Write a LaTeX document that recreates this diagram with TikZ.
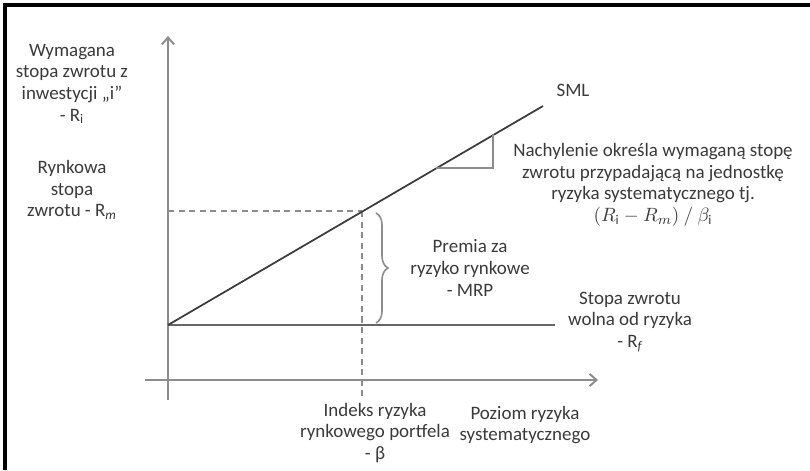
\documentclass[tikz,border=0pt]{standalone}
\usepackage{fontspec}
\setmainfont{Carlito}
\usetikzlibrary{arrows.meta,decorations.pathreplacing}
\definecolor{axisgray}{HTML}{8C8C8C}
\definecolor{rfgray}{HTML}{666666}
\definecolor{smlgray}{HTML}{3C3C3C}
\definecolor{txt}{HTML}{3A3A3A}
\begin{document}
\begin{tikzpicture}[x=0.02cm,y=-0.02cm,
  lbl/.style={align=center,text=txt,font=\fontsize{10.8}{12.3}\selectfont,inner sep=0pt},
  axis/.style={draw=axisgray,line width=1.3pt,-{Straight Barb[length=4pt,width=7pt,line width=1.1pt]}},
  rfline/.style={draw=rfgray,line width=1.6pt},
  smlline/.style={draw=smlgray,line width=1pt},
  guide/.style={draw=axisgray,line width=0.8pt,dash pattern=on 3.5pt off 2.5pt},
  slope/.style={draw=axisgray,line width=0.8pt},
  bracestyle/.style={draw=axisgray,line width=0.9pt,decorate,decoration={brace,amplitude=0.24cm}}
]
\useasboundingbox (0,0) rectangle (810,470);
% outer frame
\draw[line width=2.5pt] (5,470) -- (5,5) -- (810,5);

% key points
\coordinate (yb) at (168,400);
\coordinate (yt) at (168,36);
\coordinate (xl) at (145,380);
\coordinate (xr) at (598,380);
\coordinate (O) at (168,325);
\coordinate (rfend) at (555,325);
\coordinate (smlend) at (543,106);
\coordinate (M) at (362,211);
\coordinate (My) at (168,211);
\coordinate (Mx) at (362,400);
\coordinate (ta) at (436,168);
\coordinate (tb) at (493,168);
\coordinate (tc) at (493,134);
\coordinate (bt) at (376,213);
\coordinate (bb) at (376,323);

% axes
\draw[axis] (yb) -- (yt);
\draw[axis] (xl) -- (xr);

% market point guides
\draw[guide] (My) -- (M);
\draw[guide] (M) -- (Mx);

% risk-free line and SML
\draw[rfline] (O) -- (rfend);
\draw[smlline] (O) -- (smlend);

% slope triangle
\draw[slope] (ta) -- (tb) -- (tc);

% market risk premium brace, pointing towards its label
\draw[bracestyle] (bt) -- (bb);

% labels
\node[lbl] (ri) at (72,84) {Wymagana\\stopa zwrotu z\\inwestycji „i”\\- R\textsubscript{i}};
\node[lbl] (rm) at (72,190) {Rynkowa\\stopa\\zwrotu - R\textsubscript{\itshape m}};
\node[lbl] (sml) at (573,90) {SML};
\node[lbl] (slopetxt) at (653,185) {Nachylenie określa wymaganą stopę\\zwrotu przypadającą na jednostkę\\ryzyka systematycznego tj.\\$(R_{\mathrm{i}}-R_m)\ /\ \beta_{\mathrm{i}}$};
\node[lbl] (mrp) at (470,268) {Premia za\\ryzyko rynkowe\\- MRP};
\node[lbl] (rf) at (630,322) {Stopa zwrotu\\wolna od ryzyka\\- R\textsubscript{\itshape f}};
\node[lbl] (beta) at (375,433) {Indeks ryzyka\\rynkowego portfela\\- β};
\node[lbl] (xlab) at (525,425) {Poziom ryzyka\\systematycznego};
\end{tikzpicture}
\end{document}
